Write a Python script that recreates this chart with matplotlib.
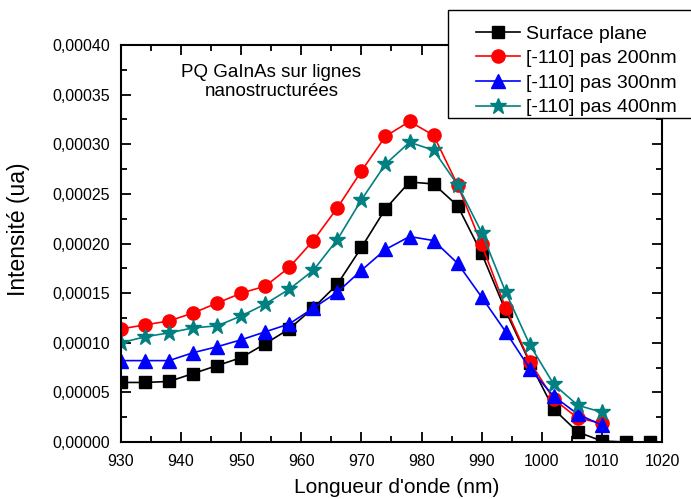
import numpy as np
import matplotlib
matplotlib.use("Agg")
import matplotlib.pyplot as plt
from matplotlib.ticker import MultipleLocator, FuncFormatter
from matplotlib.patches import Rectangle

plt.rcParams['font.family'] = ['Liberation Sans', 'DejaVu Sans']

# longueurs d'onde (nm)
wl_plane = [930, 934, 938, 942, 946, 950, 954, 958, 962, 966, 970, 974,
            978, 982, 986, 990, 994, 998, 1002, 1006, 1010, 1014, 1018]
wl = wl_plane[:21]

surface_plane = [0.000060, 0.000060, 0.000061, 0.000069, 0.000077, 0.000085,
                 0.000099, 0.000114, 0.000135, 0.000159, 0.000196, 0.000235,
                 0.000262, 0.000260, 0.000238, 0.000190, 0.000132, 0.000080,
                 0.000033, 0.000010, 0.000001, 0.0, 0.0]
pas_200 = [0.000114, 0.000118, 0.000122, 0.000130, 0.000140, 0.000150,
           0.000157, 0.000176, 0.000203, 0.000236, 0.000273, 0.000308,
           0.000323, 0.000309, 0.000259, 0.000199, 0.000135, 0.000081,
           0.000043, 0.000024, 0.000019]
pas_300 = [0.000082, 0.000082, 0.000082, 0.000090, 0.000096, 0.000103,
           0.000111, 0.000119, 0.000135, 0.000151, 0.000173, 0.000194,
           0.000207, 0.000203, 0.000180, 0.000146, 0.000111, 0.000074,
           0.000046, 0.000028, 0.000017]
pas_400 = [0.000100, 0.000106, 0.000110, 0.000115, 0.000117, 0.000127,
           0.000139, 0.000154, 0.000173, 0.000204, 0.000244, 0.000280,
           0.000302, 0.000294, 0.000259, 0.000211, 0.000151, 0.000098,
           0.000058, 0.000037, 0.000030]

W, H = 691, 499
fig = plt.figure(figsize=(W / 100, H / 100), dpi=100)
ax = fig.add_axes([121 / W, 1 - 442 / H, 541 / W, 397 / H])

ax.plot(wl_plane, surface_plane, color='black', marker='s', ms=8, lw=1.2,
        label='Surface plane')
ax.plot(wl, pas_200, color='#ff0000', marker='o', ms=9.5, lw=1.2,
        label='[-110] pas 200nm')
ax.plot(wl, pas_300, color='#0000ff', marker='^', ms=10, lw=1.2,
        label='[-110] pas 300nm')
ax.plot(wl, pas_400, color='#008080', marker='*', ms=12, lw=1.2,
        label='[-110] pas 400nm')

ax.set_xlim(930, 1020)
ax.set_ylim(0, 0.0004)
ax.xaxis.set_major_locator(MultipleLocator(10))
ax.xaxis.set_minor_locator(MultipleLocator(5))
ax.yaxis.set_major_locator(MultipleLocator(0.00005))
ax.yaxis.set_minor_locator(MultipleLocator(0.000025))
ax.yaxis.set_major_formatter(FuncFormatter(lambda v, p: f"{v:.5f}".replace('.', ',')))
ax.tick_params(which='both', direction='in', top=True, right=True,
               labelsize=11.5, width=1.3)
ax.tick_params(which='major', length=7)
ax.tick_params(which='minor', length=4)
ax.tick_params(axis='x', which='major', pad=9)
ax.tick_params(axis='y', which='major', pad=8)
for s in ax.spines.values():
    s.set_linewidth(1.5)

ax.set_xlabel("Longueur d'onde (nm)", fontsize=15)
ax.set_ylabel("Intensité (ua)", fontsize=16.5)
ax.xaxis.set_label_coords(0.509, -0.091)
ax.yaxis.set_label_coords(-0.168, 0.535)

ax.text(0.278, 0.907, "PQ GaInAs sur lignes\nnanostructurées", transform=ax.transAxes,
        ha='center', va='center', fontsize=13.5, linespacing=1.2)

# cadre de la légende (déborde à droite comme dans l'original)
fig.patches.append(Rectangle((448 / W, 1 - 118 / H), 260 / W, 108 / H,
                             transform=fig.transFigure, fill=True, facecolor='white',
                             edgecolor='black', lw=1.0, clip_on=False, zorder=5))
leg = fig.legend(loc='upper left', bbox_to_anchor=(476 / W, 1 - 25 / H),
                 fontsize=14, frameon=False, handlelength=2.27, handletextpad=0.3,
                 borderpad=0, labelspacing=0.36, borderaxespad=0)
leg.set_zorder(6)

fig.savefig("out.png", dpi=100)
